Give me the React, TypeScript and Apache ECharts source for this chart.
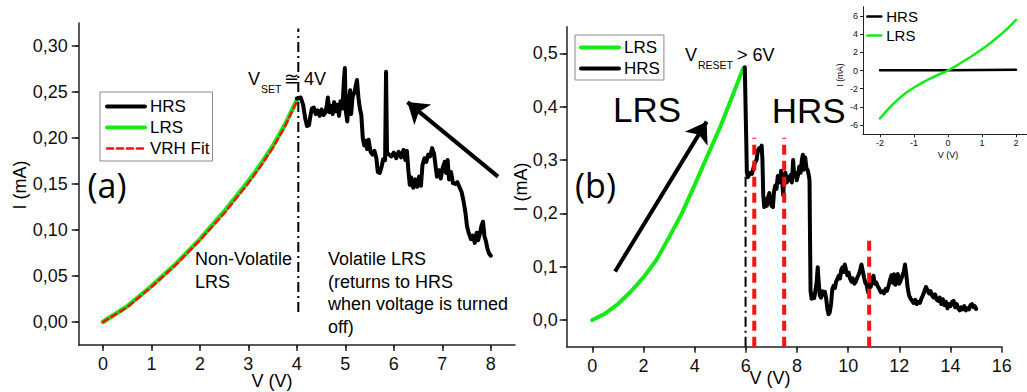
import React, { useEffect, useRef } from 'react';
import * as echarts from 'echarts';

const SANS = '"Liberation Sans", Arial, Helvetica, sans-serif';
const ROUND = '"Open Sans", "Liberation Sans", sans-serif';

// ---------- Panel (a) ----------
const aTicksV = [0, 1, 2, 3, 4, 5, 6, 7, 8];
const aTicksI = [0, 0.05, 0.1, 0.15, 0.2, 0.25, 0.3];
const aLrs: [number, number][] = [
  [0, 0], [0.5, 0.017], [1, 0.039], [1.5, 0.063], [2, 0.09], [2.5, 0.12],
  [3, 0.153], [3.25, 0.171], [3.5, 0.191], [3.75, 0.214], [4, 0.241],
];
const aFit: [number, number][] = [
  [0, 0], [0.5, 0.016], [1, 0.038], [1.5, 0.062], [2, 0.089], [2.5, 0.118],
  [3, 0.151], [3.25, 0.169], [3.5, 0.189], [3.75, 0.212], [4, 0.24],
];
const aHrs: [number, number][] = [
  [4.0, 0.243], [4.08, 0.244], [4.13, 0.236], [4.17, 0.222], [4.21, 0.213], [4.25, 0.214],
  [4.28, 0.224], [4.31, 0.232], [4.35, 0.233], [4.39, 0.226], [4.43, 0.23], [4.47, 0.224],
  [4.51, 0.231], [4.55, 0.225], [4.59, 0.228], [4.62, 0.236], [4.64, 0.244], [4.67, 0.228],
  [4.71, 0.235], [4.74, 0.226], [4.77, 0.239], [4.81, 0.229], [4.84, 0.236], [4.87, 0.224],
  [4.9, 0.24], [4.94, 0.232], [4.97, 0.262], [4.99, 0.276], [5.01, 0.229], [5.04, 0.218],
  [5.07, 0.24], [5.1, 0.252], [5.12, 0.226], [5.15, 0.245], [5.19, 0.25], [5.22, 0.258],
  [5.24, 0.263], [5.27, 0.244], [5.3, 0.232], [5.33, 0.225], [5.36, 0.2], [5.39, 0.192],
  [5.42, 0.197], [5.45, 0.188], [5.48, 0.198], [5.52, 0.185], [5.56, 0.182], [5.6, 0.186],
  [5.64, 0.178], [5.67, 0.163], [5.71, 0.162], [5.75, 0.169], [5.78, 0.177], [5.82, 0.176],
  [5.84, 0.272], [5.86, 0.184], [5.9, 0.182], [5.95, 0.18], [6.0, 0.184], [6.05, 0.178],
  [6.1, 0.185], [6.15, 0.179], [6.2, 0.187], [6.24, 0.176], [6.27, 0.186], [6.3, 0.165],
  [6.33, 0.149], [6.36, 0.157], [6.4, 0.146], [6.44, 0.155], [6.48, 0.147], [6.52, 0.158],
  [6.56, 0.148], [6.59, 0.17], [6.63, 0.178], [6.67, 0.174], [6.71, 0.182], [6.75, 0.18],
  [6.79, 0.189], [6.83, 0.183], [6.86, 0.17], [6.89, 0.158], [6.93, 0.165], [6.97, 0.156],
  [7.01, 0.168], [7.05, 0.174], [7.08, 0.162], [7.11, 0.176], [7.14, 0.155], [7.18, 0.163],
  [7.22, 0.151], [7.27, 0.15], [7.31, 0.152], [7.36, 0.146], [7.4, 0.141], [7.44, 0.131],
  [7.48, 0.118], [7.51, 0.104], [7.55, 0.096], [7.59, 0.09], [7.63, 0.094], [7.67, 0.086],
  [7.71, 0.097], [7.74, 0.089], [7.78, 0.097], [7.81, 0.105], [7.84, 0.109], [7.87, 0.093],
  [7.9, 0.088], [7.93, 0.08], [7.96, 0.075], [8.0, 0.072],
];
const aSetV = 4.03;
const aSetSpan = [0.011, 0.319];
const aArrow: [number, number][] = [[8.15, 0.158], [6.28, 0.239]];

// ---------- Panel (b) ----------
const bTicksV = [0, 2, 4, 6, 8, 10, 12, 14, 16];
const bTicksI = [0, 0.1, 0.2, 0.3, 0.4, 0.5];
const bLrs: [number, number][] = [
  [0, 0], [0.5, 0.012], [1, 0.03], [1.5, 0.053], [2, 0.08], [2.5, 0.112], [3, 0.155],
  [3.5, 0.2], [4, 0.253], [4.5, 0.308], [5, 0.362], [5.5, 0.423], [5.75, 0.454], [5.9, 0.472],
];
const bHrs: [number, number][] = [
  [5.96, 0.474], [5.99, 0.4], [6.02, 0.33], [6.04, 0.277], [6.08, 0.268], [6.13, 0.272],
  [6.18, 0.276], [6.24, 0.274], [6.3, 0.285], [6.36, 0.296], [6.42, 0.3], [6.47, 0.318],
  [6.52, 0.322], [6.57, 0.318], [6.62, 0.327], [6.65, 0.3], [6.68, 0.236], [6.72, 0.212],
  [6.77, 0.226], [6.82, 0.214], [6.87, 0.23], [6.92, 0.238], [6.96, 0.222], [7.01, 0.214],
  [7.06, 0.212], [7.1, 0.24], [7.15, 0.252], [7.2, 0.246], [7.25, 0.27], [7.29, 0.258],
  [7.34, 0.262], [7.38, 0.28], [7.42, 0.262], [7.46, 0.234], [7.5, 0.268], [7.55, 0.276],
  [7.6, 0.258], [7.65, 0.268], [7.7, 0.262], [7.75, 0.272], [7.8, 0.258], [7.85, 0.3],
  [7.89, 0.27], [7.94, 0.276], [7.99, 0.262], [8.04, 0.272], [8.09, 0.288], [8.14, 0.276],
  [8.19, 0.3], [8.23, 0.31], [8.27, 0.282], [8.32, 0.305], [8.37, 0.285], [8.42, 0.281],
  [8.46, 0.272], [8.49, 0.262], [8.51, 0.15], [8.53, 0.055], [8.57, 0.04], [8.62, 0.048],
  [8.67, 0.041], [8.72, 0.055], [8.77, 0.072], [8.81, 0.099], [8.85, 0.07], [8.89, 0.046],
  [8.94, 0.042], [8.99, 0.054], [9.04, 0.048], [9.09, 0.053], [9.14, 0.04], [9.19, 0.02],
  [9.23, 0.011], [9.28, 0.014], [9.33, 0.03], [9.38, 0.058], [9.43, 0.064], [9.48, 0.06],
  [9.53, 0.072], [9.58, 0.077], [9.63, 0.083], [9.68, 0.078], [9.73, 0.094], [9.78, 0.099],
  [9.83, 0.09], [9.87, 0.104], [9.92, 0.093], [9.97, 0.084], [10.02, 0.089], [10.07, 0.078],
  [10.13, 0.072], [10.18, 0.078], [10.24, 0.068], [10.3, 0.072], [10.36, 0.08], [10.42, 0.086],
  [10.48, 0.096], [10.52, 0.104], [10.57, 0.092], [10.62, 0.08], [10.67, 0.07], [10.72, 0.066],
  [10.78, 0.052], [10.83, 0.07], [10.88, 0.062], [10.94, 0.078], [10.99, 0.083], [11.04, 0.068],
  [11.1, 0.07], [11.16, 0.063], [11.22, 0.058], [11.28, 0.052], [11.34, 0.054], [11.4, 0.05],
  [11.46, 0.058], [11.52, 0.055], [11.58, 0.064], [11.64, 0.076], [11.69, 0.084], [11.74, 0.07],
  [11.79, 0.086], [11.84, 0.066], [11.89, 0.08], [11.94, 0.086], [11.99, 0.068], [12.05, 0.074],
  [12.11, 0.082], [12.17, 0.09], [12.22, 0.104], [12.27, 0.086], [12.32, 0.062], [12.38, 0.046],
  [12.44, 0.04], [12.5, 0.036], [12.56, 0.032], [12.62, 0.038], [12.68, 0.03], [12.74, 0.034],
  [12.8, 0.032], [12.86, 0.04], [12.92, 0.046], [12.98, 0.054], [13.04, 0.062], [13.1, 0.056],
  [13.16, 0.05], [13.22, 0.054], [13.28, 0.046], [13.34, 0.042], [13.4, 0.048], [13.46, 0.038],
  [13.52, 0.036], [13.58, 0.042], [13.64, 0.03], [13.7, 0.039], [13.76, 0.028], [13.82, 0.034],
  [13.88, 0.022], [13.94, 0.03], [14.0, 0.026], [14.06, 0.034], [14.12, 0.036], [14.18, 0.024],
  [14.24, 0.03], [14.3, 0.022], [14.36, 0.018], [14.42, 0.024], [14.48, 0.02], [14.54, 0.026],
  [14.6, 0.018], [14.66, 0.022], [14.72, 0.02], [14.78, 0.028], [14.84, 0.03], [14.9, 0.024],
  [14.95, 0.026], [15.0, 0.021],
];
const bResetV = 5.99;
const bResetTop = 0.27;
const bMarkV = [6.33, 7.5, 10.82];
const bMarkTop = [0.342, 0.342, 0.158];
const bArrow: [number, number][] = [[0.89, 0.091], [4.47, 0.372]];

// ---------- Inset ----------
const cTicksV = [-2, -1, 0, 1, 2];
const cTicksI = [-6, -4, -2, 0, 2, 4, 6];
const cHrs: [number, number][] = [[-2, 0.02], [-1, 0.03], [0, 0.03], [1, 0.05], [2, 0.08]];
const cLrs: [number, number][] = [
  [-2, -5.26], [-1.75, -4.2], [-1.5, -3.28], [-1.25, -2.5], [-1, -1.87], [-0.75, -1.33],
  [-0.5, -0.84], [-0.25, -0.41], [0, 0], [0.25, 0.53], [0.5, 1.11], [0.75, 1.7],
  [1, 2.33], [1.25, 3.02], [1.5, 3.78], [1.75, 4.6], [2, 5.56],
];

const AXIS_COLOR = '#222';
const GREEN = '#16ea16';

function valueAxis(gridIndex: number, min: number, max: number, interval: number,
  ticks: number[], fmt: (v: number) => string, fontSize: number, margin: number,
  tickLen: number, lineWidth: number) {
  return {
    type: 'value', gridIndex, min, max, interval,
    axisLine: { show: true, onZero: false, lineStyle: { color: AXIS_COLOR, width: lineWidth } },
    axisTick: { show: true, customValues: ticks, length: tickLen, lineStyle: { color: AXIS_COLOR, width: lineWidth } },
    minorTick: { show: true, splitNumber: 2, length: tickLen / 2, lineStyle: { color: AXIS_COLOR, width: lineWidth } },
    axisLabel: { show: true, customValues: ticks, formatter: fmt, fontSize, color: '#111', margin, fontFamily: SANS },
    splitLine: { show: false }, minorSplitLine: { show: false },
  };
}

function lineSeries(name: string, xi: number, data: [number, number][], color: string,
  width: number, type: any = 'solid', z = 2) {
  return {
    type: 'line', name, xAxisIndex: xi, yAxisIndex: xi, data, symbol: 'none', showSymbol: false,
    silent: true, z, lineStyle: { color, width, type, join: 'round', cap: 'round' }, itemStyle: { color },
  };
}

function vline(xi: number, x: number, y0: number, y1: number, color: string, width: number, type: any) {
  return {
    type: 'line', xAxisIndex: xi, yAxisIndex: xi, data: [[x, y0], [x, y1]], symbol: 'none',
    silent: true, z: 3, lineStyle: { color, width, type },
  };
}

function arrow(xi: number, pts: [number, number][]) {
  return {
    type: 'lines', coordinateSystem: 'cartesian2d', xAxisIndex: xi, yAxisIndex: xi, silent: true,
    symbol: ['none', 'arrow'], symbolSize: 20, z: 4,
    lineStyle: { color: '#000', width: 4, opacity: 1, curveness: 0 },
    data: [{ coords: pts }],
  };
}

function txt(x: number, y: number, text: string, fontSize: number, extra: any = {}) {
  return {
    type: 'text', x, y, silent: true, z: 10,
    style: { text, fontSize, fontFamily: SANS, fill: '#000', align: 'left', verticalAlign: 'middle', ...extra },
  };
}

function vtxt(x: number, y: number, text: string, fontSize: number) {
  return {
    type: 'text', x, y, rotation: Math.PI / 2, silent: true, z: 10,
    style: { text, fontSize, fontFamily: SANS, fill: '#000', align: 'center', verticalAlign: 'middle' },
  };
}

function buildOption() {
  const series: any[] = [
    lineSeries('LRS', 0, aLrs, GREEN, 4.5, 'solid', 2),
    lineSeries('VRH Fit', 0, aFit, '#ff1010', 2.5, [6, 4], 3),
    lineSeries('HRS', 0, aHrs, '#000', 4, 'solid', 2),
    vline(0, aSetV, aSetSpan[0], aSetSpan[1], '#000', 2, [10, 4, 2, 4]),
    arrow(0, aArrow),

    lineSeries('LRS', 1, bLrs, GREEN, 4, 'solid', 2),
    lineSeries('HRS', 1, bHrs, '#000', 4, 'solid', 2),
    vline(1, bResetV, -0.05, bResetTop, '#000', 2, [10, 4, 2, 4]),
    ...bMarkV.map((v, i) => vline(1, v, -0.05, bMarkTop[i], '#ff1010', 4, [10, 6])),
    arrow(1, bArrow),

    lineSeries('HRS', 2, cHrs, '#000', 2.5, 'solid', 2),
    { ...lineSeries('LRS', 2, cLrs, GREEN, 2.5, 'solid', 2), smooth: 0.2 },
  ];

  const legendBase = {
    orient: 'vertical', selectedMode: false, itemGap: 4, itemWidth: 38, itemHeight: 14,
    borderColor: '#8a8a8a', borderWidth: 1, backgroundColor: '#fff',
    textStyle: { fontSize: 17, fontFamily: SANS, color: '#000', lineHeight: 17 },
    lineStyle: { width: 4 },
    itemStyle: { opacity: 0 },
  };

  return {
    animation: false,
    backgroundColor: '#fff',
    textStyle: { fontFamily: SANS },
    grid: [
      { left: 78.7, top: 23, width: 436.3, height: 322, containLabel: false, outerBoundsMode: 'none' },
      { left: 566.7, top: 26.7, width: 435, height: 320, containLabel: false, outerBoundsMode: 'none' },
      { left: 863, top: 6.7, width: 170, height: 127.6, containLabel: false, outerBoundsMode: 'none' },
    ],
    xAxis: [
      valueAxis(0, -0.5, 8.5, 1, aTicksV, (v) => String(v), 18, 10, 6, 1.5),
      valueAxis(1, -1, 16, 2, bTicksV, (v) => String(v), 18, 10, 6, 1.5),
      valueAxis(2, -2.5, 2.5, 1, cTicksV, (v) => String(v), 9, 4, 3, 1),
    ],
    yAxis: [
      valueAxis(0, -0.025, 0.325, 0.05, aTicksI, (v) => v.toFixed(2).replace('.', ','), 18, 11, 7, 1.5),
      valueAxis(1, -0.05, 0.55, 0.1, bTicksI, (v) => v.toFixed(1).replace('.', ','), 18, 9, 7, 1.5),
      valueAxis(2, -7, 7, 2, cTicksI, (v) => String(v), 9, 5, 3, 1),
    ],
    legend: [
      {
        ...legendBase, left: 100, top: 92, padding: [6, 3, 4, 5],
        data: [{ name: 'HRS' }, { name: 'LRS' }, { name: 'VRH Fit', lineStyle: { width: 2.5 } }],
      },
      { ...legendBase, left: 575, top: 35, padding: [4, 4, 3, 4], data: ['LRS', 'HRS'] },
      {
        orient: 'vertical', selectedMode: false, left: 866, top: 9, padding: 0, itemGap: 4,
        itemWidth: 14, itemHeight: 10, lineStyle: { width: 2.5 }, itemStyle: { opacity: 0 },
        textStyle: { fontSize: 15, fontFamily: SANS, color: '#000', lineHeight: 15 },
        data: ['HRS', 'LRS'],
      },
    ],
    graphic: [
      txt(107, 185, '(a)', 34, { fontFamily: ROUND, align: 'center' }),
      txt(248, 78.5, 'V', 18),
      txt(261, 88.5, 'SET', 10.5),
      txt(284, 78.5, '≅ 4V', 18),
      txt(195, 247.5, 'Non-Volatile\nLRS', 18, { verticalAlign: 'top', lineHeight: 23 }),
      txt(328, 247.5, 'Volatile LRS\n(returns to HRS\nwhen voltage is turned\noff)', 18, { verticalAlign: 'top', lineHeight: 22.7 }),
      vtxt(20, 185, 'I (mA)', 18),
      txt(272, 381, 'V (V)', 18, { align: 'center' }),

      txt(595.5, 185, '(b)', 34, { fontFamily: ROUND, align: 'center' }),
      txt(685, 55, 'V', 18),
      txt(698, 65, 'RESET', 10.5),
      txt(737, 55, '> 6V', 18),
      txt(613, 109, 'LRS', 35),
      txt(771.7, 110, 'HRS', 35),
      vtxt(521, 187, 'I (mA)', 18),
      txt(770, 378, 'V (V)', 18, { align: 'center' }),

      vtxt(840, 75, 'I (mA)', 8.5),
      txt(948, 155, 'V (V)', 9, { align: 'center' }),
    ],
    series,
  };
}

export default function App() {
  const ref = useRef<HTMLDivElement>(null);
  useEffect(() => {
    document.body.style.margin = '0';
    document.body.style.overflow = 'hidden';
    const chart = echarts.init(ref.current!, null, { renderer: 'svg' });
    chart.setOption(buildOption() as any);
    return () => chart.dispose();
  }, []);
  return <div ref={ref} style={{ width: 1027, height: 392, background: '#fff' }} />;
}
